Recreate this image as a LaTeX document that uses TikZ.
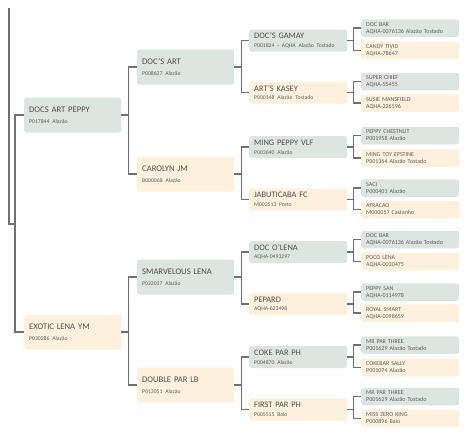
\documentclass[tikz,border=0pt]{standalone}
\usepackage{fontspec}
\setmainfont{Carlito}
\definecolor{sirefill}{HTML}{DDE5E0}
\definecolor{damefill}{HTML}{FDF0DC}
\definecolor{linegray}{HTML}{707070}
\definecolor{namegray}{HTML}{4E4E4E}
\definecolor{subgray}{HTML}{5E5E5E}
\tikzset{
  horse/.style={anchor=west, rounded corners=2.5pt, inner xsep=5pt, inner ysep=0pt,
    align=left, text=namegray},
  sire/.style={horse, fill=sirefill},
  dame/.style={horse, fill=damefill},
  big/.style={text width=87pt, minimum height=35pt, font=\fontsize{8.6}{11.5}\selectfont},
  mid/.style={text width=88pt, minimum height=22pt, font=\fontsize{8.4}{8.6}\selectfont},
  small/.style={text width=88pt, minimum height=17.5pt, font=\fontsize{6}{7}\selectfont, text=subgray},
  link/.style={linegray, line width=1.1pt}
}
\newcommand{\regno}[1]{{\fontsize{5.7}{6}\selectfont\color{subgray}#1}}
\begin{document}
\begin{tikzpicture}[x=1pt,y=-1pt]
	\useasboundingbox (0,0) rectangle (468,440);
	% parents
	\node[sire,big] (a) at (24,115) {DOCS ART PEPPY\\\regno{P017844 Alazão}};
	\node[dame,big] (b) at (24,332) {EXOTIC LENA YM\\\regno{P030286 Alazão}};
	% grandparents
	\node[sire,big] (aa) at (137,67) {DOC'S ART\\\regno{P008627 Alazão}};
	\node[dame,big] (ab) at (137,174) {CAROLYN JM\\\regno{B000068 Alazão}};
	\node[sire,big] (ba) at (137,277) {SMARVELOUS LENA\\\regno{P022037 Alazão}};
	\node[dame,big] (bb) at (137,385) {DOUBLE PAR LB\\\regno{P013051 Alazão}};
	% great-grandparents
	\node[sire,mid] (aaa) at (249,40.5) {DOC'S GAMAY\\\regno{P001824 - AQHA Alazão Tostado}};
	\node[dame,mid] (aab) at (249,92.5) {ART'S KASEY\\\regno{P000148 Alazão Tostado}};
	\node[sire,mid] (aba) at (249,147) {MING PEPPY VLF\\\regno{P003640 Alazão}};
	\node[dame,mid] (abb) at (249,199.5) {JABUTICABA FC\\\regno{M003513 Preto}};
	\node[sire,mid] (baa) at (249,252) {DOC O'LENA\\\regno{AQHA-0493297}};
	\node[dame,mid] (bab) at (249,304) {PEPARD\\\regno{AQHA-623498}};
	\node[sire,mid] (bba) at (249,357) {COKE PAR PH\\\regno{P004870 Alazão}};
	\node[dame,mid] (bbb) at (249,409.5) {FIRST PAR PH\\\regno{P005515 Baio}};
	% 4th generation
	\node[sire,small] (aaaa) at (361,28) {DOC BAR\\AQHA-0076136 Alazão Tostado};
	\node[dame,small] (aaab) at (361,50.5) {CANDY TIVID\\AQHA-78647};
	\node[sire,small] (aaba) at (361,81.5) {SUPER CHIEF\\AQHA-55455};
	\node[dame,small] (aabb) at (361,103) {SUSIE MANSFIELD\\AQHA-226596};
	\node[sire,small] (abaa) at (361,135.5) {PEPPY CHESTNUT\\P001958 Alazão};
	\node[dame,small] (abab) at (361,158) {MING TOY EPSTINE\\P001364 Alazão Tostado};
	\node[sire,small] (abba) at (361,188) {SACI\\P000401 Alazão};
	\node[dame,small] (abbb) at (361,209.5) {ATRACAO\\M000057 Castanho};
	\node[sire,small] (baaa) at (361,239.5) {DOC BAR\\AQHA-0076136 Alazão Tostado};
	\node[dame,small] (baab) at (361,261.5) {POCO LENA\\AQHA-0030475};
	\node[sire,small] (baba) at (361,292) {PEPPY SAN\\AQHA-0114978};
	\node[dame,small] (babb) at (361,313) {ROYAL SMART\\AQHA-0098659};
	\node[sire,small] (bbaa) at (361,345) {MR PAR THREE\\P001629 Alazão Tostado};
	\node[dame,small] (bbab) at (361,367.5) {COKEBAR SALLY\\P001074 Alazão};
	\node[sire,small] (bbba) at (361,396.5) {MR PAR THREE\\P001629 Alazão Tostado};
	\node[dame,small] (bbbb) at (361,418.5) {MISS ZERO KING\\P000896 Baio};
	% connectors
	\coordinate (top) at (9,8);
	\coordinate (join) at (15,224);
	\draw[link] (top) |- (join);
	\draw[link] (join) |- (a.west);
	\draw[link] (join) |- (b.west);
	\foreach \p in {a,b}{
		\draw[link] (\p.east) -- ++(7,0) |- (\p a.west);
		\draw[link] (\p.east) -- ++(7,0) |- (\p b.west);
	}
	\foreach \p in {aa,ab,ba,bb}{
		\draw[link] (\p.east) -- ++(7,0) |- (\p a.west);
		\draw[link] (\p.east) -- ++(7,0) |- (\p b.west);
	}
	\foreach \p in {aaa,aab,aba,abb,baa,bab,bba,bbb}{
		\draw[link] (\p.east) -- ++(6,0) |- (\p a.west);
		\draw[link] (\p.east) -- ++(6,0) |- (\p b.west);
	}
\end{tikzpicture}
\end{document}
